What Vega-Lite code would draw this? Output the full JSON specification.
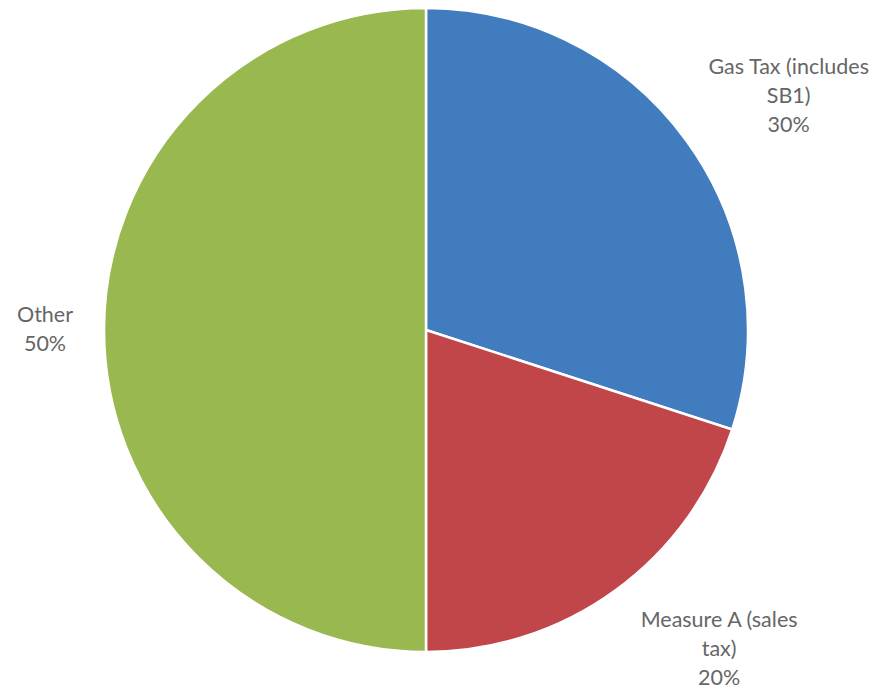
{
  "$schema": "https://vega.github.io/schema/vega-lite/v6.json",
  "width": 852,
  "height": 660,
  "autosize": "none",
  "padding": {"left": 0, "top": 0, "right": 30, "bottom": 38},
  "background": "white",
  "view": {"stroke": null},
  "data": {
    "values": [
      {"category": "Gas Tax", "label": "Gas Tax (includes\nSB1)\n30%", "value": 30},
      {"category": "Measure A", "label": "Measure A (sales\ntax)\n20%", "value": 20},
      {"category": "Other", "label": "Other\n50%", "value": 50}
    ]
  },
  "encoding": {
    "theta": {"field": "value", "type": "quantitative", "stack": true},
    "order": {"field": "category", "type": "nominal", "sort": "ascending"}
  },
  "layer": [
    {
      "mark": {"type": "arc", "outerRadius": 322, "stroke": "white", "strokeWidth": 2.5},
      "encoding": {
        "color": {
          "field": "category",
          "type": "nominal",
          "scale": {"domain": ["Gas Tax", "Measure A", "Other"], "range": ["#417CBE", "#C0464A", "#9AB850"]},
          "legend": null
        }
      }
    },
    {
      "mark": {"type": "text", "radius": 431, "dx": 14, "dy": -9, "font": "Lato", "fontSize": 21.5, "fill": "#666666", "lineBreak": "\n", "lineHeight": 29, "align": "center", "baseline": "middle"},
      "encoding": {
        "text": {"condition": {"test": "datum.category === 'Gas Tax'", "field": "label"}, "value": ""}
      }
    },
    {
      "mark": {"type": "text", "radius": 434, "dx": 38, "dy": -60, "font": "Lato", "fontSize": 21.5, "fill": "#666666", "lineBreak": "\n", "lineHeight": 29, "align": "center", "baseline": "middle"},
      "encoding": {
        "text": {"condition": {"test": "datum.category === 'Measure A'", "field": "label"}, "value": ""}
      }
    },
    {
      "mark": {"type": "text", "radius": 381, "dy": -14.5, "font": "Lato", "fontSize": 21.5, "fill": "#666666", "lineBreak": "\n", "lineHeight": 29, "align": "center", "baseline": "middle"},
      "encoding": {
        "text": {"condition": {"test": "datum.category === 'Other'", "field": "label"}, "value": ""}
      }
    }
  ]
}
